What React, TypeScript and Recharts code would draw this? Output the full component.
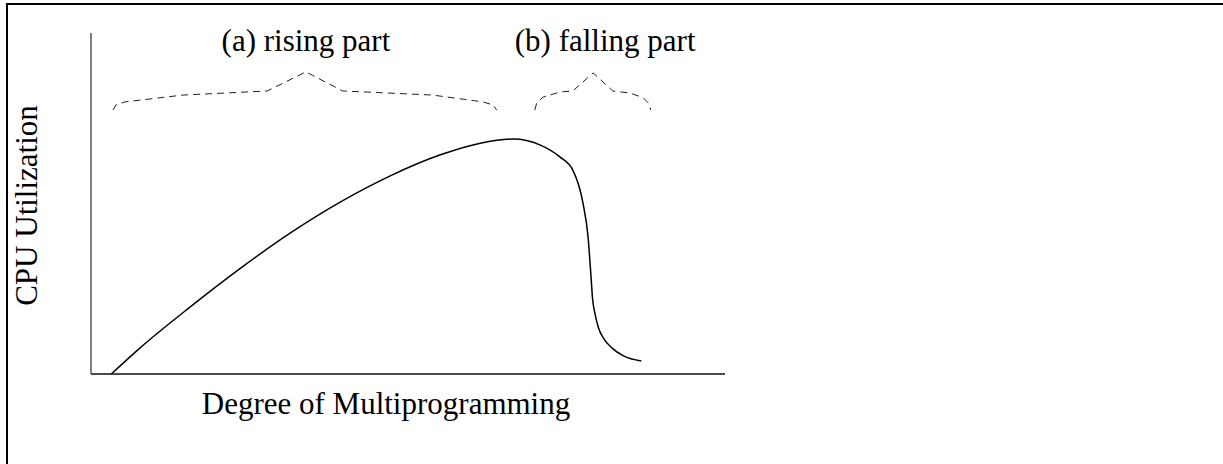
import { LineChart, Line, XAxis, YAxis, ReferenceDot } from 'recharts';

// main curve (x: degree of multiprogramming, y: cpu utilization, both 0-100)
const curveX = [3.2, 7.7, 15.6, 23.5, 31.4, 39.3, 47.2, 55.0, 61.4, 66.6, 70.8, 74.0, 76.0, 77.6, 78.4, 78.85, 79.1, 79.5, 80.0, 80.9, 82.2, 84.0, 86.8];
const curveY = [0, 7.6, 19.6, 30.9, 41.3, 50.4, 58.1, 64.2, 67.7, 68.9, 67.2, 63.6, 59.8, 50.1, 40.2, 29.0, 22.3, 17.6, 13.8, 10.3, 7.6, 5.3, 3.8];

// brace over the rising part
const braceAX = [3.47, 3.94, 5.36, 14.5, 27.8, 33.9, 39.7, 53.9, 61.8, 63.4, 64.0];
const braceAY = [77.4, 78.9, 79.8, 81.8, 83.0, 88.6, 83.0, 81.8, 79.8, 78.9, 77.4];

// brace over the falling part
const braceBX = [70.0, 70.3, 71.3, 74.0, 76.0, 79.2, 82.3, 85.0, 87.1, 87.9, 88.3];
const braceBY = [77.4, 79.5, 81.2, 82.7, 83.0, 88.3, 83.0, 82.4, 81.0, 79.5, 77.4];

const partLabels = ['(a) rising part', '(b) falling part'];
const partLabelX = [33.9, 81.1];
const partLabelY = [98, 98];

const curveData = curveX.map((x, i) => ({ x, y: curveY[i] }));
const braceAData = braceAX.map((x, i) => ({ x, y: braceAY[i] }));
const braceBData = braceBX.map((x, i) => ({ x, y: braceBY[i] }));

const serif = '"Liberation Serif", "Times New Roman", serif';

export default function App() {
  return (
    <div style={{ position: 'absolute', left: 0, top: 0, width: 1223, height: 464, background: '#fff', fontFamily: serif }}>
      {/* frame lines of the original figure */}
      <div style={{ position: 'absolute', left: 6, top: 3, width: 1217, height: 2, background: '#000' }} />
      <div style={{ position: 'absolute', left: 6, top: 3, width: 2, height: 461, background: '#000' }} />

      <div style={{ position: 'absolute', left: 0, top: 0 }}>
        <LineChart width={1223} height={464} data={curveData} margin={{ top: 33, right: 498, bottom: 89, left: 90 }}>
          <XAxis
            dataKey="x"
            type="number"
            domain={[0, 100]}
            height={1}
            tick={false}
            tickLine={false}
            axisLine={{ stroke: '#111', strokeWidth: 1.5 }}
            label={{ value: 'Degree of Multiprogramming', position: 'center', dx: -22, dy: 28, fontSize: 31, fill: '#000', fontFamily: serif }}
          />
          <YAxis
            type="number"
            domain={[0, 100]}
            width={1}
            tick={false}
            tickLine={false}
            axisLine={{ stroke: '#555', strokeWidth: 1.5 }}
            label={{ value: 'CPU Utilization', angle: -90, position: 'center', dx: -65, dy: 2, fontSize: 31, fill: '#000', fontFamily: serif }}
          />
          <Line data={curveData} dataKey="y" type="monotone" stroke="#000" strokeWidth={1.5} dot={false} isAnimationActive={false} />
          <Line data={braceAData} dataKey="y" type="linear" stroke="#222" strokeWidth={1} strokeDasharray="7 5" dot={false} isAnimationActive={false} />
          <Line data={braceBData} dataKey="y" type="linear" stroke="#222" strokeWidth={1} strokeDasharray="7 5" dot={false} isAnimationActive={false} />
          {partLabels.map((t, i) => (
            <ReferenceDot
              key={t}
              x={partLabelX[i]}
              y={partLabelY[i]}
              r={0}
              fill="none"
              stroke="none"
              ifOverflow="visible"
              label={{ value: t, position: 'center', fontSize: 31, fill: '#000', fontFamily: serif }}
            />
          ))}
        </LineChart>
      </div>
    </div>
  );
}
